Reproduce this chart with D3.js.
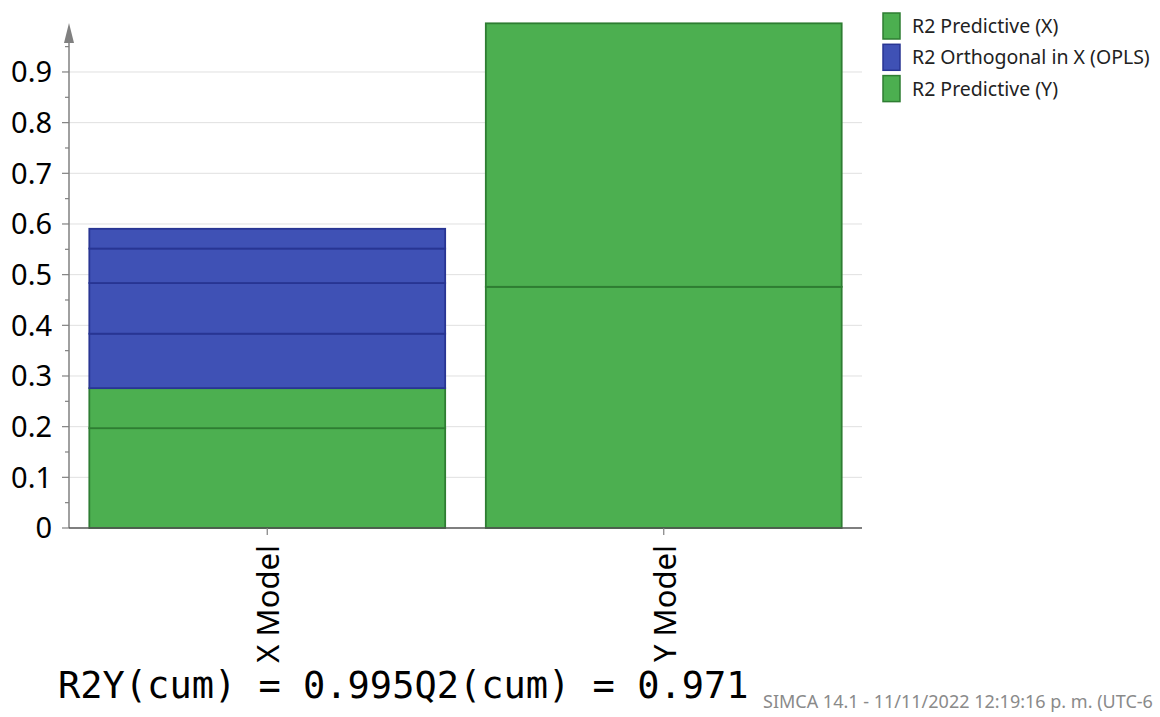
<!DOCTYPE html>
<html><head><meta charset="utf-8">
<script src="https://cdn.jsdelivr.net/npm/d3@7"></script>
<style>body{margin:0;background:#fff}svg{display:block}</style>
</head><body>
<svg id="chart" width="1160" height="717"></svg>
<script>
const categories = ["X Model", "Y Model"];
const seriesNames = ["R2 Predictive (X)", "R2 Orthogonal in X (OPLS)", "R2 Predictive (Y)"];
const predX = [0.197, 0.079];              // X Model, predictive components
const orthX = [0.1075, 0.100, 0.068, 0.039]; // X Model, orthogonal components
const predY = [0.476, 0.520];              // Y Model, predictive components
const yTicks = [0, 0.1, 0.2, 0.3, 0.4, 0.5, 0.6, 0.7, 0.8, 0.9];
const summaryText = "R2Y(cum) = 0.995Q2(cum) = 0.971";
const footerText = "SIMCA 14.1 - 11/11/2022 12:19:16 p. m. (UTC-6";

const colors = {fill: ["#4caf50", "#3f51b5", "#4caf50"], stroke: ["#2e7d32", "#283593", "#2e7d32"]};

const svg = d3.select("#chart");
const left = 69, right = 862, bottom = 528;
const x = d3.scaleBand().domain(categories).range([left, right]).paddingInner(0.1).paddingOuter(0.05);
const y = d3.scaleLinear().domain([0, 1]).range([bottom, bottom - 506.7]);

// gridlines
svg.append("g").selectAll("line").data(yTicks.slice(1)).join("line")
  .attr("x1", left).attr("x2", right).attr("y1", d => y(d)).attr("y2", d => y(d))
  .attr("stroke", "#e0e0e0").attr("stroke-width", 1);

// build segments
const segs = [];
function stack(cat, vals, si, start) {
  let acc = start;
  vals.forEach(v => { segs.push({cat, s: si, y0: acc, y1: acc + v}); acc += v; });
  return acc;
}
const xPredTop = stack("X Model", predX, 0, 0);
stack("X Model", orthX, 1, xPredTop);
stack("Y Model", predY, 2, 0);

svg.append("g").selectAll("rect").data(segs).join("rect")
  .attr("x", d => x(d.cat) + 0.5).attr("width", x.bandwidth() - 1)
  .attr("y", d => y(d.y1)).attr("height", d => y(d.y0) - y(d.y1))
  .attr("fill", d => colors.fill[d.s]).attr("stroke", d => colors.stroke[d.s]).attr("stroke-width", 1.8);

// y axis
const axisColor = "#808080";
const ya = svg.append("g");
ya.append("line").attr("x1", left).attr("x2", left).attr("y1", bottom).attr("y2", 30)
  .attr("stroke", axisColor).attr("stroke-width", 1.5);
ya.append("path").attr("d", `M${left},23 L${left-5},43 L${left+5},43 Z`).attr("fill", axisColor);
const minor = d3.range(0.05, 1.0, 0.1);
ya.selectAll("line.minor").data(minor).join("line").attr("class", "minor")
  .attr("x1", left - 4).attr("x2", left).attr("y1", d => y(d)).attr("y2", d => y(d))
  .attr("stroke", axisColor).attr("stroke-width", 1.2);
ya.selectAll("line.major").data(yTicks).join("line").attr("class", "major")
  .attr("x1", left - 7).attr("x2", left).attr("y1", d => y(d)).attr("y2", d => y(d))
  .attr("stroke", axisColor).attr("stroke-width", 1.2);
ya.selectAll("text").data(yTicks).join("text")
  .attr("x", 52).attr("y", d => y(d)).attr("dy", "0.36em").attr("text-anchor", "end")
  .attr("font-family", "Noto Sans, Open Sans, sans-serif").attr("font-size", 29).attr("fill", "#000")
  .text(d => d === 0 ? "0" : d3.format(".1f")(d));

// x axis
const xa = svg.append("g");
xa.append("line").attr("x1", left).attr("x2", right).attr("y1", bottom).attr("y2", bottom)
  .attr("stroke", "#555").attr("stroke-width", 1.5);
xa.selectAll("line.t").data(categories).join("line").attr("class", "t")
  .attr("x1", d => x(d) + x.bandwidth() / 2).attr("x2", d => x(d) + x.bandwidth() / 2)
  .attr("y1", bottom).attr("y2", bottom + 7).attr("stroke", axisColor).attr("stroke-width", 1.2);
xa.selectAll("text").data(categories).join("text")
  .attr("transform", d => `translate(${x(d) + x.bandwidth() / 2 + 12},545) rotate(-90)`)
  .attr("text-anchor", "end")
  .attr("font-family", "Noto Sans, Open Sans, sans-serif").attr("font-size", 31).attr("fill", "#000")
  .text(d => d);

// legend
const lg = svg.append("g").selectAll("g").data(seriesNames).join("g")
  .attr("transform", (d, i) => `translate(883,${13 + i * 31.3})`);
lg.append("rect").attr("width", 17).attr("height", 26)
  .attr("fill", (d, i) => colors.fill[i]).attr("stroke", (d, i) => colors.stroke[i]).attr("stroke-width", 1.5);
lg.append("text").attr("x", 29).attr("y", 13).attr("dy", "0.36em")
  .attr("font-family", "Noto Sans, Open Sans, sans-serif").attr("font-size", 19.5).attr("fill", "#222")
  .text(d => d);

// summary text
svg.append("text").attr("x", 58).attr("y", 698)
  .attr("font-family", "DejaVu Sans Mono, monospace").attr("font-size", 37).attr("fill", "#000")
  .text(summaryText);

// footer
svg.append("text").attr("x", 763).attr("y", 708)
  .attr("font-family", "Noto Sans, Open Sans, sans-serif").attr("font-size", 18).attr("fill", "#8a8a8a")
  .text(footerText);
</script>
</body></html>
